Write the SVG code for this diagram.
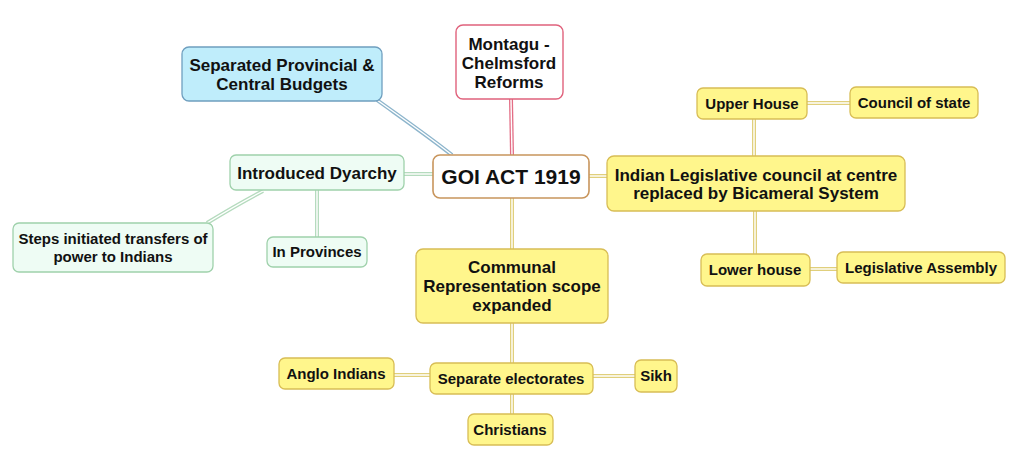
<svg xmlns="http://www.w3.org/2000/svg" width="1024" height="467" viewBox="0 0 1024 467">
<style>
text{font-family:"Liberation Sans",Arial,sans-serif;font-weight:bold;fill:#111;text-anchor:middle}
.f17{font-size:17px}
.f15{font-size:15px}
.big{font-size:21px}
.y rect{fill:#fff68c;stroke:#d8bd55;stroke-width:1.3}
.g rect{fill:#eefcf4;stroke:#9fd1ab;stroke-width:1.3}
.c{fill:none;stroke-width:4}
.ci{fill:none;stroke:#fff;stroke-width:1.4}
.cy{stroke:#e0cf7c}
.cg{stroke:#b5dbbe}
.cb{stroke:#8db5cc}
.cp{stroke:#e36d85}
.co{stroke:#e0cf7c}
</style>
<rect width="1024" height="467" fill="#fff"/>
<g id="connectors">
  <path class="c cb" d="M377,100 C402,118 428,136 452,155"/>
  <path class="ci" d="M377,100 C402,118 428,136 452,155"/>
  <path class="c cp" d="M511,99 L512,155"/>
  <path class="ci" d="M511,99 L512,155"/>
  <path class="c cg" d="M404,174 L433,174"/>
  <path class="ci" d="M404,174 L433,174"/>
  <path class="c cg" d="M263,191 C240,203 225,212 207,223"/>
  <path class="ci" d="M263,191 C240,203 225,212 207,223"/>
  <path class="c cg" d="M317,190 L317,237"/>
  <path class="ci" d="M317,190 L317,237"/>
  <path class="c cy" d="M589,176 L607,176"/>
  <path class="ci" d="M589,176 L607,176"/>
  <path class="c cy" d="M754,119 L754,156"/>
  <path class="ci" d="M754,119 L754,156"/>
  <path class="c cy" d="M807,103 L850,103"/>
  <path class="ci" d="M807,103 L850,103"/>
  <path class="c cy" d="M755,211 L755,254"/>
  <path class="ci" d="M755,211 L755,254"/>
  <path class="c cy" d="M810,269 L837,269"/>
  <path class="ci" d="M810,269 L837,269"/>
  <path class="c cy" d="M512,198 L512,249"/>
  <path class="ci" d="M512,198 L512,249"/>
  <path class="c cy" d="M512,323 L512,363"/>
  <path class="ci" d="M512,323 L512,363"/>
  <path class="c cy" d="M394,375 L430,375"/>
  <path class="ci" d="M394,375 L430,375"/>
  <path class="c cy" d="M593,376 L635,376"/>
  <path class="ci" d="M593,376 L635,376"/>
  <path class="c cy" d="M512,394 L512,414"/>
  <path class="ci" d="M512,394 L512,414"/>
</g>
<g id="goi">
  <rect x="433" y="155" width="156" height="43" rx="7" fill="#fff" stroke="#c8955c" stroke-width="1.6"/>
  <text class="big" x="511" y="184">GOI ACT 1919</text>
</g>
<g id="budgets">
  <rect x="182" y="47" width="200" height="54" rx="7" fill="#bfedfb" stroke="#6f9fbf" stroke-width="1.3"/>
  <text class="f17" x="282" y="71">Separated Provincial &amp;</text>
  <text class="f17" x="282" y="90">Central Budgets</text>
</g>
<g id="montagu">
  <rect x="456" y="25" width="107" height="74" rx="7" fill="#fff" stroke="#e0627c" stroke-width="1.4"/>
  <text class="f17" x="509" y="50">Montagu -</text>
  <text class="f17" x="509" y="69">Chelmsford</text>
  <text class="f17" x="509" y="88">Reforms</text>
</g>
<g id="dyarchy" class="g">
  <rect x="230" y="155" width="174" height="35" rx="6"/>
  <text class="f17" x="317" y="179">Introduced Dyarchy</text>
</g>
<g id="steps" class="g">
  <rect x="13" y="223" width="200" height="49" rx="6"/>
  <text class="f15" x="113" y="244">Steps initiated transfers of</text>
  <text class="f15" x="113" y="262">power to Indians</text>
</g>
<g id="provinces" class="g">
  <rect x="267" y="237" width="100" height="30" rx="6"/>
  <text class="f15" x="317" y="257">In Provinces</text>
</g>
<g id="legislative" class="y">
  <rect x="607" y="156" width="298" height="55" rx="7"/>
  <text class="f17" x="756" y="181">Indian Legislative council at centre</text>
  <text class="f17" x="756" y="199">replaced by Bicameral System</text>
</g>
<g id="upper" class="y">
  <rect x="697" y="88" width="110" height="31" rx="6"/>
  <text class="f15" x="752" y="109">Upper House</text>
</g>
<g id="council" class="y">
  <rect x="850" y="87" width="128" height="31" rx="6"/>
  <text class="f15" x="914" y="108">Council of state</text>
</g>
<g id="lower" class="y">
  <rect x="701" y="254" width="109" height="32" rx="6"/>
  <text class="f15" x="755" y="275">Lower house</text>
</g>
<g id="assembly" class="y">
  <rect x="837" y="252" width="168" height="31" rx="6"/>
  <text class="f15" x="921" y="273">Legislative Assembly</text>
</g>
<g id="communal" class="y">
  <rect x="416" y="249" width="192" height="74" rx="7"/>
  <text class="f17" x="512" y="273">Communal</text>
  <text class="f17" x="512" y="292">Representation scope</text>
  <text class="f17" x="512" y="311">expanded</text>
</g>
<g id="separate" class="y">
  <rect x="430" y="363" width="163" height="31" rx="6"/>
  <text class="f15" x="511" y="384">Separate electorates</text>
</g>
<g id="anglo" class="y">
  <rect x="279" y="358" width="115" height="31" rx="6"/>
  <text class="f15" x="336" y="379">Anglo Indians</text>
</g>
<g id="sikh" class="y">
  <rect x="635" y="360" width="42" height="32" rx="6"/>
  <text class="f15" x="656" y="381">Sikh</text>
</g>
<g id="christians" class="y">
  <rect x="468" y="414" width="85" height="31" rx="6"/>
  <text class="f15" x="510" y="435">Christians</text>
</g>
</svg>
